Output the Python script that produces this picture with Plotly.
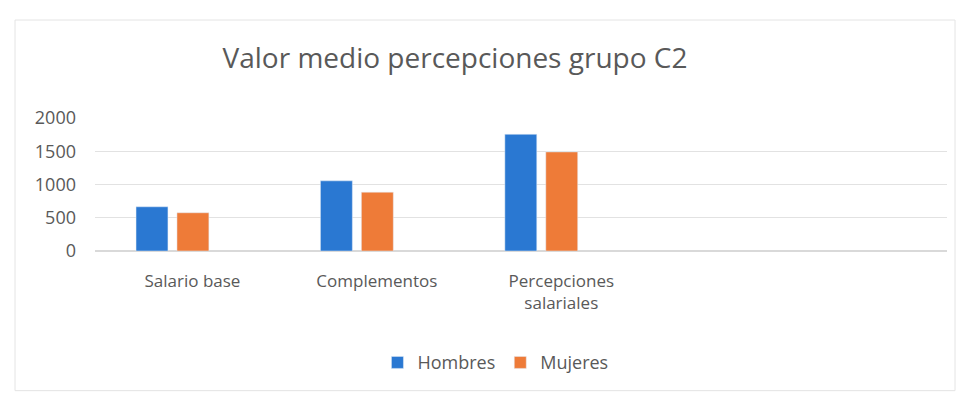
import plotly.graph_objects as go

# Average pay components for group C2, by sex
categories = ["Salario base", "Complementos", "Percepciones<br>salariales"]
hombres = [665, 1055, 1755]
mujeres = [575, 885, 1490]
y_ticks = [0, 500, 1000, 1500, 2000]

BLUE = "#2A78D2"
ORANGE = "#EE7B38"
GREY_TEXT = "#595959"
FONT = "Open Sans"

fig = go.Figure()
fig.add_trace(go.Bar(name="Hombres", x=categories, y=hombres, marker_color=BLUE))
fig.add_trace(go.Bar(name="Mujeres", x=categories, y=mujeres, marker_color=ORANGE))

fig.update_layout(
    width=966,
    height=396,
    margin=dict(l=95, r=19, t=118, b=145),
    paper_bgcolor="white",
    plot_bgcolor="white",
    barmode="group",
    bargap=0.556,
    bargroupgap=0.22,
    font=dict(family=FONT, color=GREY_TEXT),
    title=dict(
        text="Valor medio percepciones grupo C2",
        x=0.471, xanchor="center",
        y=0.854, yanchor="middle",
        yref="container",
        font=dict(family=FONT, size=28, color=GREY_TEXT),
    ),
    legend=dict(
        orientation="h",
        x=0.47, xanchor="center",
        y=-0.84, yanchor="middle",
        font=dict(family=FONT, size=18, color=GREY_TEXT),
        itemwidth=30,
    ),
    shapes=[
        dict(type="rect", xref="paper", yref="paper",
             x0=-80 / 852, x1=1 + 8 / 852, y0=-1.05, y1=1 + 98 / 133,
             line=dict(color="#E4E4E4", width=1)),
    ],
)

fig.update_xaxes(
    type="category",
    range=[-0.42, 4.2],
    showgrid=False,
    showline=False,
    ticks="",
    ticklabelshift=20,
    ticklabelstandoff=18,
    tickfont=dict(family=FONT, size=17, color=GREY_TEXT),
)
fig.update_yaxes(
    range=[0, 2000],
    tickvals=y_ticks,
    showgrid=True,
    gridcolor="#E2E2E2",
    gridwidth=1,
    zeroline=True,
    zerolinecolor="#D9D9D9",
    showline=False,
    ticks="",
    ticklabelstandoff=18,
    tickfont=dict(family=FONT, size=18, color=GREY_TEXT),
)

fig.write_html("out.html")
